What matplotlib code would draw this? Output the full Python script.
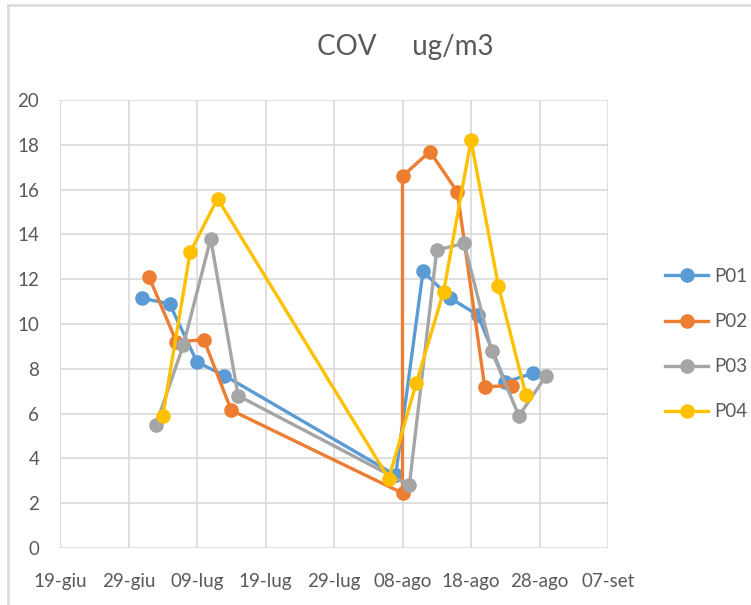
import datetime as dt
import matplotlib
matplotlib.use('Agg')
import matplotlib.pyplot as plt
from matplotlib.lines import Line2D

plt.rcParams['font.family'] = ['Lato', 'DejaVu Sans']

# dati (giorno, mese)
p01_dates = [(1, 7), (5, 7), (9, 7), (13, 7), (7, 8), (11, 8), (15, 8), (19, 8), (23, 8), (27, 8)]
p01_values = [11.15, 10.9, 8.3, 7.7, 3.25, 12.35, 11.15, 10.4, 7.4, 7.8]

p02_dates = [(2, 7), (6, 7), (10, 7), (14, 7), (8, 8), (8, 8), (12, 8), (16, 8), (20, 8), (24, 8)]
p02_values = [12.1, 9.2, 9.3, 6.15, 2.45, 16.6, 17.7, 15.9, 7.2, 7.25]

p03_dates = [(3, 7), (7, 7), (11, 7), (15, 7), (9, 8), (13, 8), (17, 8), (21, 8), (25, 8), (29, 8)]
p03_values = [5.5, 9.05, 13.8, 6.8, 2.8, 13.3, 13.6, 8.8, 5.9, 7.7]

p04_dates = [(4, 7), (8, 7), (12, 7), (6, 8), (10, 8), (14, 8), (18, 8), (22, 8), (26, 8)]
p04_values = [5.9, 13.2, 15.6, 3.1, 7.35, 11.45, 18.2, 11.7, 6.85]

series_names = ['P01', 'P02', 'P03', 'P04']
series_colors = ['#5B9BD5', '#ED7D31', '#A5A5A5', '#FFC000']

tick_labels = ['19-giu', '29-giu', '09-lug', '19-lug', '29-lug', '08-ago', '18-ago', '28-ago', '07-set']

YEAR = 2020


def to_dates(pairs):
    return [dt.date(YEAR, m, d) for d, m in pairs]


W, H = 751, 605
fig = plt.figure(figsize=(W / 100, H / 100), dpi=100)
ax = fig.add_axes([60 / W, (H - 548) / H, (608 - 60) / W, (548 - 100) / H])

all_dates = [p01_dates, p02_dates, p03_dates, p04_dates]
all_values = [p01_values, p02_values, p03_values, p04_values]
for name, color, dd, vv in zip(series_names, series_colors, all_dates, all_values):
    ax.plot(to_dates(dd), vv, color=color, lw=2.4, marker='o', ms=9.5,
            label=name, solid_joinstyle='round')

start = dt.date(YEAR, 6, 19)
ticks = [start + dt.timedelta(days=10 * i) for i in range(len(tick_labels))]
ax.set_xlim(ticks[0], ticks[-1])
ax.set_xticks(ticks)
ax.set_xticklabels(tick_labels)
ax.set_ylim(0, 20)
ax.set_yticks(range(0, 21, 2))

ax.grid(True, color='#d9d9d9', lw=1.2)
ax.set_axisbelow(True)
for s in ax.spines.values():
    s.set_visible(False)
ax.tick_params(length=0, labelsize=13.5, colors='#595959')
ax.tick_params(axis='x', pad=18)
ax.tick_params(axis='y', pad=15)

leg = ax.legend(loc='upper left', bbox_to_anchor=(665 / W, 1 - 268 / H),
                bbox_transform=fig.transFigure, frameon=False, fontsize=13.5,
                labelspacing=1.5, handlelength=2.3, handletextpad=0.3,
                borderaxespad=0, borderpad=0)
for t in leg.get_texts():
    t.set_color('#595959')

fig.text(405 / W, 1 - 47 / H, 'COV     ug/m3', ha='center', va='center',
         fontsize=20, color='#595959')

# cornice del grafico
fig.add_artist(Line2D([8 / W, 1], [1 - 5 / H, 1 - 5 / H], color='#d9d9d9', lw=1.8,
                      transform=fig.transFigure))
fig.add_artist(Line2D([8 / W, 8 / W], [0, 1 - 5 / H], color='#d9d9d9', lw=1.8,
                      transform=fig.transFigure))

fig.savefig('out.png', dpi=100)
